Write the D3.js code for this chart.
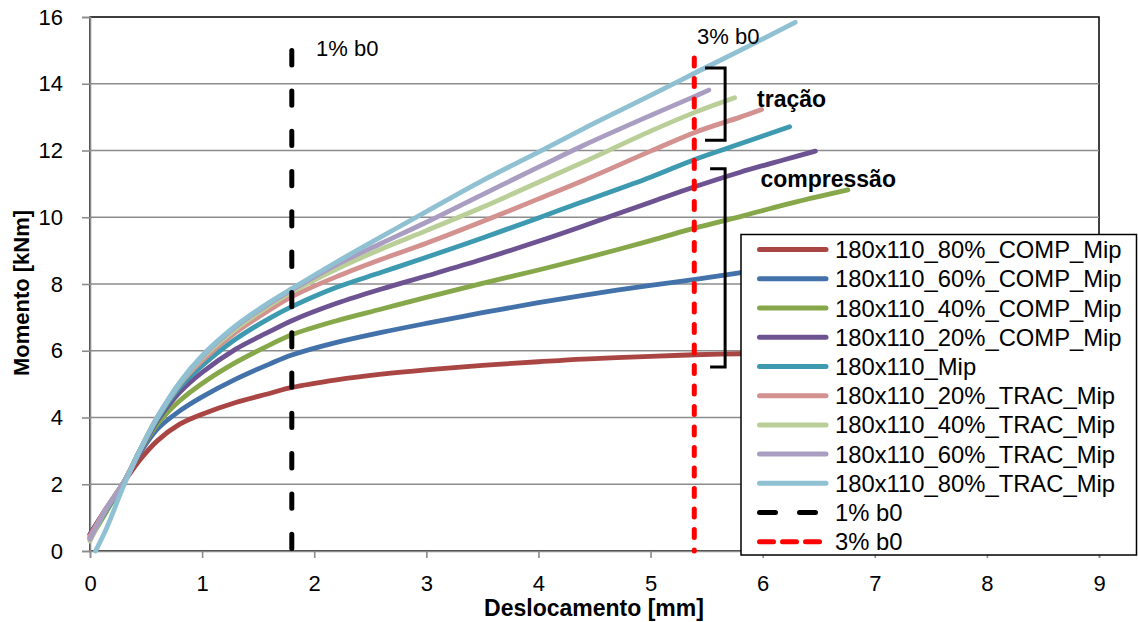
<!DOCTYPE html>
<html><head><meta charset="utf-8">
<script src="https://cdn.jsdelivr.net/npm/d3@7"></script>
<style>
html,body{margin:0;padding:0;background:#fff;}
text{font-family:"Liberation Sans",Arial,sans-serif;}
</style></head>
<body><svg id="chart" width="1138" height="622"></svg>
<script>
// ---------- data ----------
const seriesNames = ["180x110_80%_COMP_Mip","180x110_60%_COMP_Mip","180x110_40%_COMP_Mip","180x110_20%_COMP_Mip","180x110_Mip","180x110_20%_TRAC_Mip","180x110_40%_TRAC_Mip","180x110_60%_TRAC_Mip","180x110_80%_TRAC_Mip"];
const seriesColors = ["#A94543","#4372AA","#87A84A","#6D5392","#3E9AB0","#D39290","#B9CF97","#A99DC1","#8FC1D3"];

const xGrid  = [0,0.15,0.3,0.45,0.6,0.8,1.0,1.3,1.6,1.8,2.2,2.6,3.0,3.5,4.0,4.4,5.0,5.4,5.8,6.2];
const comp80 = [0.5,1.3,2.05,2.75,3.3,3.8,4.1,4.45,4.72,4.9,5.13,5.3,5.43,5.56,5.67,5.75,5.83,5.88,5.91,5.95];
const comp60 = [0.4,1.25,2.05,2.95,3.65,4.2,4.62,5.15,5.6,5.87,6.25,6.55,6.82,7.14,7.44,7.66,7.96,8.14,8.34,8.55];
const comp40 = [0.35,1.2,2.05,3.0,3.8,4.5,5.02,5.65,6.17,6.48,6.9,7.25,7.6,8.02,8.42,8.76,9.3,9.68,10.02,10.38];
const comp20 = [0.5,1.3,2.05,3.0,3.9,4.75,5.35,6.05,6.57,6.9,7.42,7.85,8.24,8.74,9.28,9.74,10.45,10.92,11.35,11.73];
const mip    = [0.4,1.25,2.05,3.05,3.95,4.9,5.55,6.35,6.97,7.32,7.9,8.35,8.8,9.38,9.98,10.47,11.2,11.74,12.2];
const trac20 = [0.45,1.3,2.05,3.05,4.0,5.0,5.7,6.55,7.22,7.62,8.22,8.74,9.22,9.87,10.55,11.1,11.98,12.55,13.0];
const trac40 = [0.3,1.3,2.05,3.05,4.0,5.0,5.78,6.65,7.35,7.76,8.45,9.05,9.6,10.3,11.05,11.65,12.58,13.15];
const trac60 = [0.35,1.3,2.05,3.05,4.0,5.02,5.82,6.72,7.42,7.82,8.58,9.22,9.85,10.68,11.5,12.15,13.05,13.63];
const trac80 = [null,0.7,1.95,3.05,4.0,5.05,5.85,6.75,7.45,7.86,8.66,9.42,10.17,11.1,11.95,12.65,13.65,14.33,15.0];
const startX = [0,0,0,0,0,0,0,0,0.05];
const startY = [null,null,null,null,null,null,null,null,0];
const endX = [6.4,6.5,6.76,6.47,6.24,5.99,5.75,5.52,6.29];
const endY = [5.97,8.72,10.82,11.98,12.71,13.23,13.58,13.81,15.84];
const seriesValues = [comp80,comp60,comp40,comp20,mip,trac20,trac40,trac60,trac80];

const refNames = ["1% b0","3% b0"];
const refX = [1.8,5.39];
const refTop = [15.05,14.85];
const refColors = ["#000000","#FF0000"];

const xTicks = [0,1,2,3,4,5,6,7,8,9];
const yTicks = [0,2,4,6,8,10,12,14,16];
const xTitle = "Deslocamento [mm]";
const yTitle = "Momento [kNm]";
const groupLabels = ["tração","compressão"];
const groupLabelPos = [[5.95,13.3],[5.98,10.9]];
const bracketX = [[5.486,5.665],[5.531,5.665]];
const bracketY = [[14.47,12.31],[11.45,5.51]];

// ---------- chart ----------
const svg = d3.select("#chart");
const L=90,R=1099,T=17,B=551;
const x = d3.scaleLinear().domain([0,9]).range([L,R]);
const y = d3.scaleLinear().domain([0,16]).range([B,T]);

svg.append("rect").attr("x",L).attr("y",T).attr("width",R-L).attr("height",B-T)
  .attr("fill","none").attr("stroke","#000").attr("stroke-width",1.5);
svg.append("g").selectAll("line").data(yTicks.filter(d=>d>0 && d<16)).join("line")
  .attr("x1",L).attr("x2",R).attr("y1",d=>y(d)).attr("y2",d=>y(d))
  .attr("stroke","#8C8C8C").attr("stroke-width",1.6);

const yAxis = svg.append("g").attr("transform",`translate(${L},0)`)
  .call(d3.axisLeft(y).tickValues(yTicks).tickSize(8).tickPadding(19).tickFormat(d3.format("d")));
const xAxis = svg.append("g").attr("transform",`translate(0,${B})`)
  .call(d3.axisBottom(x).tickValues(xTicks).tickSize(7).tickPadding(19).tickFormat(d3.format("d")));
[yAxis,xAxis].forEach(g=>{
  g.select(".domain").attr("stroke","#8C8C8C").attr("stroke-width",1.6);
  g.selectAll(".tick line").attr("stroke","#8C8C8C").attr("stroke-width",1.6);
  g.selectAll(".tick text").attr("fill","#000").style("font-size","22px").style("font-family","'Liberation Sans',Arial,sans-serif");
});
xAxis.selectAll(".tick text").attr("dy","0.62em");

const line = d3.line().x(d=>x(d[0])).y(d=>y(d[1])).curve(d3.curveCatmullRom.alpha(0.5));
seriesValues.forEach((vals,i)=>{
  const pts = [];
  if (startY[i]!==null) pts.push([startX[i],startY[i]]);
  vals.forEach((v,j)=>{ if(v!==null && xGrid[j]<endX[i]) pts.push([xGrid[j],v]); });
  pts.push([endX[i],endY[i]]);
  svg.append("path").datum(pts).attr("d",line).attr("fill","none")
    .attr("stroke",seriesColors[i]).attr("stroke-width",4.8).attr("stroke-linecap","round").attr("stroke-linejoin","round");
});

const refDash = ["14.3,26","8,12.5"];
svg.append("line").attr("x1",x(refX[0])).attr("x2",x(refX[0])).attr("y1",y(0)-2.5).attr("y2",y(refTop[0]))
  .attr("stroke",refColors[0]).attr("stroke-width",5).attr("stroke-linecap","round").attr("stroke-dasharray",refDash[0]);
svg.append("line").attr("x1",x(refX[1])).attr("x2",x(refX[1])).attr("y1",y(refTop[1])+2.5).attr("y2",y(0))
  .attr("stroke",refColors[1]).attr("stroke-width",5).attr("stroke-linecap","round").attr("stroke-dasharray",refDash[1]);
svg.append("text").attr("x",316).attr("y",56).text(refNames[0]).style("font-size","22px");
svg.append("text").attr("x",697).attr("y",44).text(refNames[1]).style("font-size","22px");

bracketX.forEach((bx,i)=>{
  const p = d3.path();
  p.moveTo(x(bx[0]),y(bracketY[i][0])); p.lineTo(x(bx[1]),y(bracketY[i][0]));
  p.lineTo(x(bx[1]),y(bracketY[i][1])); p.lineTo(x(bx[0]),y(bracketY[i][1]));
  svg.append("path").attr("d",p.toString()).attr("fill","none").attr("stroke","#000").attr("stroke-width",3);
  svg.append("text").attr("x",x(groupLabelPos[i][0])).attr("y",y(groupLabelPos[i][1]))
    .text(groupLabels[i]).style("font-size","23px").style("font-weight","bold");
});

svg.append("text").attr("x",594).attr("y",616).attr("text-anchor","middle")
  .text(xTitle).style("font-size","23px").style("font-weight","bold");
svg.append("text").attr("transform","translate(29,293) rotate(-90)").attr("text-anchor","middle")
  .text(yTitle).style("font-size","22px").style("font-weight","bold");

const lg = svg.append("g");
lg.append("rect").attr("x",741).attr("y",234.5).attr("width",395.5).attr("height",320.5)
  .attr("fill","#fff").attr("stroke","#000").attr("stroke-width",1.5);
const legendItems = seriesNames.map((n,i)=>({name:n,color:seriesColors[i],dash:null}))
  .concat(refNames.map((n,i)=>({name:n,color:refColors[i],dash:i===0?"16,24":"14,9"})));
legendItems.forEach((d,i)=>{
  const cy = 249.5 + i*29.23;
  lg.append("line").attr("x1",759.5).attr("x2",d.dash? (i===9?816:820) :826).attr("y1",cy).attr("y2",cy)
    .attr("stroke",d.color).attr("stroke-width",5).attr("stroke-linecap","round")
    .attr("stroke-dasharray",d.dash);
  lg.append("text").attr("x",835).attr("y",cy).attr("dy","0.36em").text(d.name).style("font-size","23.8px");
});
</script></body></html>
